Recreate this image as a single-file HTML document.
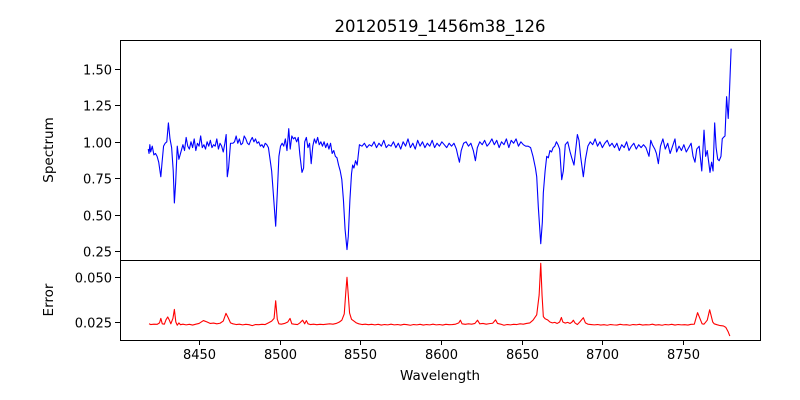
<!DOCTYPE html>
<html><head><meta charset="utf-8"><style>
html,body{margin:0;padding:0;background:#fff;}
svg{display:block;font-family:"DejaVu Sans","Liberation Sans",sans-serif;}
</style></head><body>
<svg id="chart" width="800" height="400" viewBox="0 0 800 400" xmlns="http://www.w3.org/2000/svg">
<rect width="800" height="400" fill="#fff"/>
<text x="440" y="32" font-size="16.5" text-anchor="middle">20120519_1456m38_126</text>
<text transform="translate(53,150) rotate(-90)" font-size="13.5" text-anchor="middle">Spectrum</text>
<text transform="translate(53,300) rotate(-90)" font-size="13.5" text-anchor="middle">Error</text>
<text x="440" y="380" font-size="13.5" text-anchor="middle">Wavelength</text>
<g id="marks"></g>
<rect x="120.5" y="40.5" width="640" height="220" fill="none" stroke="#000" stroke-width="1"/>
<rect x="120.5" y="260.5" width="640" height="80" fill="none" stroke="#000" stroke-width="1"/>
</svg>
<script>
const specWave=[8418.5,8419,8419.5,8420,8421,8422,8423,8424,8425,8426.3,8427,8428,8429,8430,8431,8432,8433,8434,8434.7,8435.5,8436.5,8437.5,8438.5,8440,8441,8442,8443,8444,8445,8446,8447,8448,8449,8450,8451,8452,8453,8454,8455,8456,8457,8458,8459,8460,8461,8462,8463,8464,8465,8466,8466.8,8467.5,8468.3,8469.5,8471,8472,8473,8474,8475,8476,8477,8478,8479,8480,8481,8482,8483,8484,8485,8486,8487,8488,8489,8490,8491,8492,8493,8494,8495,8496,8497.5,8498.5,8499.5,8500.5,8501.5,8502.5,8503.5,8504.5,8505.6,8506.5,8507.5,8508.5,8509.5,8510.5,8511.5,8512.5,8513.8,8514.8,8515.5,8516.5,8517.5,8518.5,8519.5,8520.5,8521.5,8522.5,8523.5,8524.5,8525.5,8526.5,8527.5,8528.5,8529.5,8530.5,8531.5,8532.5,8533.5,8534.5,8535.5,8536.5,8537.5,8538.5,8539.5,8540.5,8541.7,8542.5,8543.5,8544.5,8545.2,8546,8547,8548,8549.4,8551,8552.5,8554,8555.5,8557,8558.5,8560,8561.5,8563,8564.5,8566,8567.5,8569,8570.5,8572,8573.5,8575,8576.5,8578,8579.5,8581,8582.5,8584,8585.5,8587,8588.5,8590,8591.5,8593,8594.5,8596,8597.5,8599,8600.5,8602,8603.5,8605,8606.5,8608,8609.5,8610.5,8611.4,8612.5,8614,8615.5,8617,8618.5,8620,8621.3,8622.5,8624,8625.5,8627,8628.5,8630,8631.5,8633,8634.5,8636,8637.5,8639,8640.5,8642,8643.5,8645,8646.5,8648,8649.5,8651,8652.5,8654,8655.5,8657,8658.5,8659.3,8660.3,8661.8,8662.8,8663.4,8664.5,8665.5,8666.5,8667.5,8668.5,8669.5,8670.5,8671.5,8672.5,8673.5,8674.8,8675.8,8677,8678.5,8680,8681,8682.4,8683.5,8684.5,8685.5,8686.5,8688.2,8689.5,8691,8692.5,8694,8695.5,8697,8698.5,8700,8701.5,8703,8704.5,8706,8707.5,8709,8710.5,8712,8713.5,8715,8716.5,8718,8719.5,8721,8722.5,8724,8725.5,8727,8728.9,8730,8731,8732.5,8733.5,8734.7,8736,8737.5,8739,8740.5,8742,8743.5,8745,8746,8747.5,8749,8750.5,8752,8753.5,8755,8756.2,8757.4,8758.5,8760,8761.6,8763,8764,8765,8766.7,8767.7,8768.6,8769.6,8770.5,8771.5,8772.4,8773.5,8774.3,8775,8776,8777,8778,8778.8,8779.8];
const specFlux=[0.95,0.92,0.98,0.93,0.97,0.91,0.92,0.90,0.86,0.76,0.85,0.97,0.99,1.00,1.13,1.02,0.96,0.80,0.58,0.72,0.97,0.88,0.92,0.98,0.94,1.03,0.97,0.95,1.00,0.96,1.02,0.94,0.99,0.97,1.04,0.96,0.98,0.95,1.00,0.97,1.01,0.96,0.98,0.97,1.02,0.95,0.99,0.97,0.93,0.99,1.05,0.76,0.82,0.99,0.99,1.00,1.04,0.99,1.02,0.98,0.99,1.04,1.02,0.99,0.98,1.01,1.03,1.00,1.02,0.99,1.00,0.97,0.98,0.96,0.99,0.98,0.96,0.88,0.80,0.65,0.42,0.65,0.90,0.97,0.99,0.97,1.02,0.94,1.09,0.95,1.04,1.02,1.03,1.00,1.03,0.91,0.79,0.82,1.00,1.03,0.96,0.99,0.85,0.97,1.02,0.99,1.03,0.98,1.00,0.97,1.00,0.96,0.99,0.95,0.99,0.92,0.94,0.90,0.89,0.84,0.80,0.74,0.60,0.40,0.26,0.35,0.60,0.78,0.84,0.82,0.87,0.84,0.98,0.97,0.99,0.96,0.98,0.97,1.00,0.96,0.99,0.97,1.01,0.96,0.98,0.97,1.00,0.96,0.99,0.95,1.00,0.97,1.02,0.96,0.99,0.95,1.01,0.97,1.00,0.96,0.99,0.97,1.01,0.96,0.99,0.97,1.00,0.98,0.96,0.99,0.97,0.99,0.95,0.90,0.86,0.94,0.99,1.00,0.97,0.99,0.94,0.87,0.96,1.00,0.98,1.01,0.97,0.99,1.02,0.98,1.01,0.96,1.00,0.98,1.02,0.96,1.01,0.99,1.02,0.97,1.00,0.98,0.97,0.97,0.96,0.90,0.82,0.76,0.55,0.30,0.45,0.65,0.80,0.90,0.89,0.94,0.93,0.96,0.97,1.00,0.98,0.95,0.74,0.80,0.98,1.00,0.93,0.89,0.84,0.95,1.05,1.01,0.90,0.76,0.88,0.97,1.00,0.98,1.02,0.97,1.00,0.96,0.99,1.01,0.97,0.99,0.96,0.99,0.94,0.98,0.96,1.00,0.94,0.97,0.99,0.95,0.98,0.96,0.98,0.96,0.90,1.01,0.98,0.95,0.92,0.85,0.97,1.02,0.95,0.99,0.92,0.97,1.02,0.93,0.97,0.94,0.98,0.93,0.96,0.99,0.90,0.86,0.95,0.97,0.80,1.08,0.90,0.94,0.79,0.86,0.80,1.13,0.96,0.88,0.87,0.90,1.02,1.03,1.04,1.31,1.16,1.35,1.64];
const errWave=[8419,8420,8422,8424,8425.5,8426.3,8427.2,8428.5,8429.5,8430.6,8431.5,8432.5,8433.8,8434.7,8435.6,8436.5,8437.5,8438.5,8440,8442,8444,8446,8448,8450,8452.7,8455,8457,8459,8461,8463,8465,8466.7,8468,8469.5,8471,8473,8475,8477,8479,8481,8483,8485,8487,8489,8491,8493,8495,8496.5,8497.5,8498.5,8499.5,8501,8503,8505,8506.4,8507.5,8509,8511,8512.5,8514.2,8515.5,8516.5,8517.5,8519,8521,8523,8525,8527,8529,8531,8533,8535,8537,8538.5,8540,8541,8541.7,8542.5,8543.3,8544.5,8546,8547.5,8549,8551,8553,8555,8557,8559,8561,8563,8565,8567,8569,8571,8573,8575,8577,8579,8581,8583,8585,8587,8589,8591,8593,8595,8597,8599,8601,8603,8605,8607,8609,8611,8612,8613,8615,8617,8619,8621,8622.6,8624,8626,8628,8630,8632,8633.8,8635,8637,8639,8641,8643,8645,8647,8649,8651,8653,8655,8657,8659.3,8660.8,8661.8,8662.6,8663.4,8664.5,8666,8667.5,8669,8670.5,8672,8673.5,8674.6,8675.5,8677,8678.5,8680,8681.2,8682,8683,8684.5,8686,8688.2,8689.5,8691,8693,8695,8697,8699,8701,8703,8705,8707,8709,8711,8713,8715,8717,8719,8721,8723,8725,8727,8729,8731,8733,8735,8737,8739,8741,8743,8745,8747,8749,8751,8753,8755,8757,8759,8761.8,8763,8765,8766.5,8768.4,8769.3,8771,8773,8775,8776.5,8778,8779,8779.8];
const errVal=[0.0240,0.0236,0.0238,0.0237,0.0245,0.0270,0.0240,0.0238,0.0262,0.0278,0.0262,0.0240,0.0270,0.0320,0.0250,0.0232,0.0245,0.0235,0.0238,0.0234,0.0237,0.0233,0.0238,0.0242,0.0258,0.0250,0.0242,0.0244,0.0240,0.0243,0.0255,0.0298,0.0275,0.0245,0.0240,0.0236,0.0238,0.0234,0.0237,0.0235,0.0230,0.0236,0.0235,0.0237,0.0236,0.0245,0.0255,0.0270,0.0368,0.0265,0.0240,0.0238,0.0242,0.0250,0.0270,0.0240,0.0238,0.0236,0.0245,0.0260,0.0240,0.0258,0.0240,0.0236,0.0238,0.0235,0.0237,0.0236,0.0238,0.0240,0.0238,0.0242,0.0250,0.0260,0.0295,0.0420,0.0498,0.0400,0.0300,0.0265,0.0255,0.0245,0.0240,0.0236,0.0238,0.0235,0.0237,0.0234,0.0237,0.0233,0.0236,0.0234,0.0238,0.0234,0.0236,0.0233,0.0237,0.0235,0.0232,0.0236,0.0234,0.0237,0.0233,0.0236,0.0234,0.0238,0.0234,0.0236,0.0233,0.0237,0.0235,0.0236,0.0238,0.0245,0.0260,0.0240,0.0237,0.0240,0.0238,0.0242,0.0260,0.0240,0.0242,0.0238,0.0241,0.0243,0.0262,0.0242,0.0238,0.0232,0.0236,0.0234,0.0237,0.0236,0.0240,0.0238,0.0242,0.0245,0.0260,0.0290,0.0400,0.0576,0.0400,0.0280,0.0268,0.0262,0.0250,0.0245,0.0248,0.0242,0.0250,0.0275,0.0250,0.0244,0.0248,0.0242,0.0250,0.0260,0.0245,0.0236,0.0250,0.0274,0.0245,0.0238,0.0236,0.0234,0.0236,0.0233,0.0235,0.0232,0.0236,0.0234,0.0233,0.0237,0.0234,0.0235,0.0232,0.0236,0.0234,0.0237,0.0233,0.0235,0.0234,0.0238,0.0233,0.0235,0.0232,0.0236,0.0234,0.0237,0.0233,0.0236,0.0234,0.0235,0.0233,0.0237,0.0238,0.0302,0.0240,0.0238,0.0260,0.0318,0.0250,0.0240,0.0235,0.0230,0.0228,0.0220,0.0195,0.0172];
const xTicks=[8450,8500,8550,8600,8650,8700,8750];
const specTicks=[0.25,0.50,0.75,1.00,1.25,1.50];
const errTicks=[0.025,0.050];

const X0=120,X1=760;
const xMin=8401,xMax=8797.7;
function xs(w){return X0+(w-xMin)/(xMax-xMin)*(X1-X0);}
function ysSpec(v){return 251-(v-0.25)*145.6;}
function ysErr(v){return 322-(v-0.025)*1800;}
const NS='http://www.w3.org/2000/svg';
const g=document.getElementById('marks');
function mk(tag,attrs){const e=document.createElementNS(NS,tag);for(const k in attrs)e.setAttribute(k,attrs[k]);g.appendChild(e);return e;}

let d='';
specWave.forEach((w,i)=>{d+=(i?'L':'M')+xs(w).toFixed(2)+','+ysSpec(specFlux[i]).toFixed(2);});
const sp=mk('path',{d:d,fill:'none',stroke:'#0000ff','stroke-width':1.1,'stroke-linejoin':'round'});



d='';
errWave.forEach((w,i)=>{d+=(i?'L':'M')+xs(w).toFixed(2)+','+ysErr(errVal[i]).toFixed(2);});
const ep=mk('path',{d:d,fill:'none',stroke:'#ff0000','stroke-width':1.1,'stroke-linejoin':'round'});



xTicks.forEach(t=>{
  const x=Math.round(xs(t))+0.5;
  const tk=mk('line',{x1:x,x2:x,y1:340,y2:345,stroke:'#000'});
  
  
  const lb=mk('text',{x:x,y:359,'font-size':13,'text-anchor':'middle'});
  lb.textContent=t;
  
  
});
specTicks.forEach(t=>{
  const y=Math.round(ysSpec(t))+0.5;
  const tk=mk('line',{x1:115,x2:120,y1:y,y2:y,stroke:'#000'});
  
  
  const lb=mk('text',{x:112,y:y+5,'font-size':13,'text-anchor':'end'});
  lb.textContent=t.toFixed(2);
  
  
});
errTicks.forEach(t=>{
  const y=Math.round(ysErr(t))+0.5;
  const tk=mk('line',{x1:115,x2:120,y1:y,y2:y,stroke:'#000'});
  
  
  const lb=mk('text',{x:112,y:y+5,'font-size':13,'text-anchor':'end'});
  lb.textContent=t.toFixed(3);
  
  
});
</script>
</body></html>
